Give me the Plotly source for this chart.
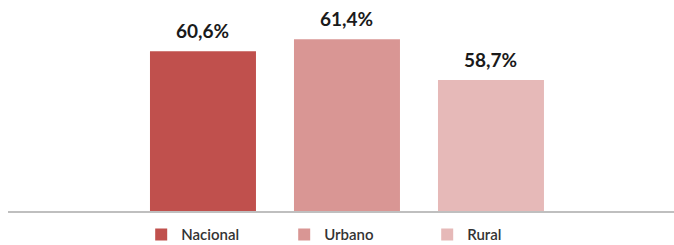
import plotly.graph_objects as go

categories = ["Nacional", "Urbano", "Rural"]
values = [60.6, 61.4, 58.7]
labels = ["60,6%", "61,4%", "58,7%"]
colors = ["#C0504D", "#D99694", "#E6B9B8"]

fig = go.Figure()
for i, (cat, val, lab, col) in enumerate(zip(categories, values, labels, colors)):
    fig.add_trace(go.Bar(
        x=[i], y=[val], name=cat, width=0.736,
        marker=dict(color=col, line=dict(width=0)),
        hoverinfo="skip",
    ))
    fig.add_annotation(
        x=i, y=val, text=lab, showarrow=False, yanchor="bottom", yshift=7,
        font=dict(family="Lato", size=19, color="#1a1a1a", weight="bold"),
    )

fig.update_layout(
    width=674, height=245,
    margin=dict(l=8, r=0, t=0, b=34, autoexpand=False),
    barmode="overlay",
    plot_bgcolor="white", paper_bgcolor="white",
    showlegend=True,
    legend=dict(orientation="h", x=0.2, xanchor="left", y=-0.112, yanchor="middle",
                entrywidth=98, entrywidthmode="pixels",
                font=dict(family="Lato", size=15, color="#333333", weight=600)),
    xaxis=dict(range=[-1.354, 3.271], showticklabels=False, showgrid=False,
               zeroline=False, showline=True, linecolor="#BFBFBF", linewidth=2, ticks=""),
    yaxis=dict(range=[50, 64], visible=False, showgrid=False, zeroline=False),
)
fig.write_html("out.html", config={"displayModeBar": False},
               post_script="document.body.style.margin='0';document.body.style.overflow='hidden';")
